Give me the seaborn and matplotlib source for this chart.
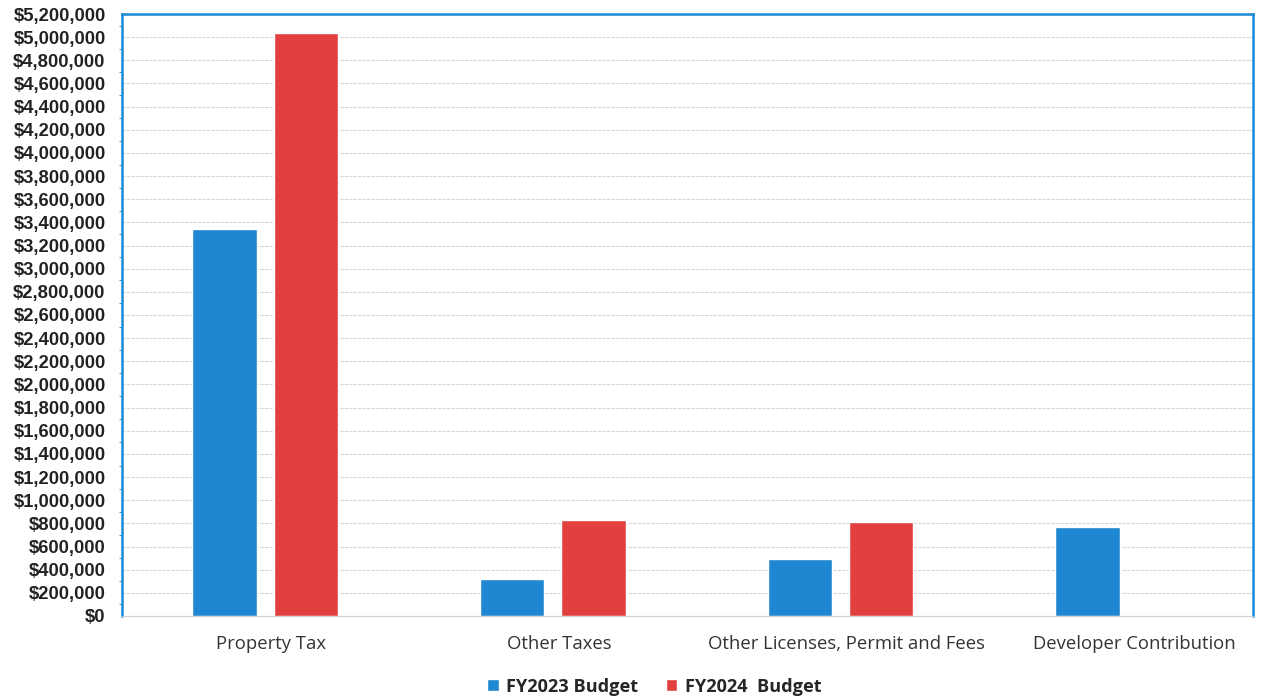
import matplotlib
matplotlib.use("Agg")
import matplotlib.pyplot as plt
import matplotlib.ticker as mticker
import matplotlib.transforms as mtransforms
import seaborn as sns
import numpy as np
import pandas as pd

# Chart data
categories = ["Property Tax", "Other Taxes", "Other Licenses, Permit and Fees", "Developer Contribution"]
fy2023 = [3340000, 320000, 490000, 770000]
fy2024 = [5040000, 830000, 810000, np.nan]
series_names = ["FY2023 Budget", "FY2024  Budget"]
y_ticks = list(range(0, 5200001, 200000))

BLUE = "#1f87d2"
RED = "#e2403f"
FRAME = "#1a8ad6"

df = pd.DataFrame({
    "Category": categories * 2,
    "Budget": series_names[0:1] * len(categories) + series_names[1:2] * len(categories),
    "Value": fy2023 + fy2024,
})

sns.set_style("white")
plt.rcParams["font.family"] = ["Liberation Sans", "DejaVu Sans"]

fig = plt.figure(figsize=(12.74, 7.0), dpi=100)
ax = fig.add_axes([0.096, 0.12, 0.8875, 0.86])

sns.barplot(data=df, x="Category", y="Value", hue="Budget", order=categories,
            hue_order=series_names, palette=[BLUE, RED], width=0.567, gap=0.21,
            saturation=1, ax=ax, legend=True)

ax.set_ylim(0, 5200000)
ax.set_xlim(-0.497, 3.434)
ax.set_yticks(y_ticks)
ax.yaxis.set_major_formatter(mticker.FuncFormatter(lambda v, p: f"${v:,.0f}"))
ax.yaxis.set_minor_locator(mticker.MultipleLocator(100000))
ax.tick_params(axis="y", which="major", length=3, color=FRAME, labelsize=13.2, pad=9)
ax.tick_params(axis="y", which="minor", left=True, length=2, color=FRAME)
ax.tick_params(axis="x", length=0, labelsize=13.3, pad=14)
for lbl in ax.get_yticklabels():
    lbl.set_fontweight("bold")
    lbl.set_color("#222222")
# category labels sit a little right of the bar groups in the original
shift = mtransforms.ScaledTranslation(6 / 100, 0, fig.dpi_scale_trans)
for lbl in ax.get_xticklabels():
    lbl.set_fontfamily(["Open Sans", "DejaVu Sans"])
    lbl.set_color("#333333")
    lbl.set_transform(lbl.get_transform() + shift)

ax.grid(axis="y", color="#d6d6d6", linewidth=0.8, linestyle=(0, (3, 1)))
ax.set_axisbelow(True)
ax.set_xlabel("")
ax.set_ylabel("")

for side in ["top", "left", "right"]:
    ax.spines[side].set_color(FRAME)
    ax.spines[side].set_linewidth(1.8)
ax.spines["bottom"].set_color("#d0d0d0")
ax.spines["bottom"].set_linewidth(0.8)

handles, labels = ax.get_legend_handles_labels()
ax.legend_.remove()
fig.legend(handles, labels, loc="center", bbox_to_anchor=(0.5135, 0.019), ncol=2,
           frameon=False, handlelength=0.65, handleheight=0.65, handletextpad=0.4,
           columnspacing=1.5, prop={"family": ["Open Sans", "DejaVu Sans"], "weight": "bold", "size": 13.1})

fig.savefig("out.png", dpi=100)
